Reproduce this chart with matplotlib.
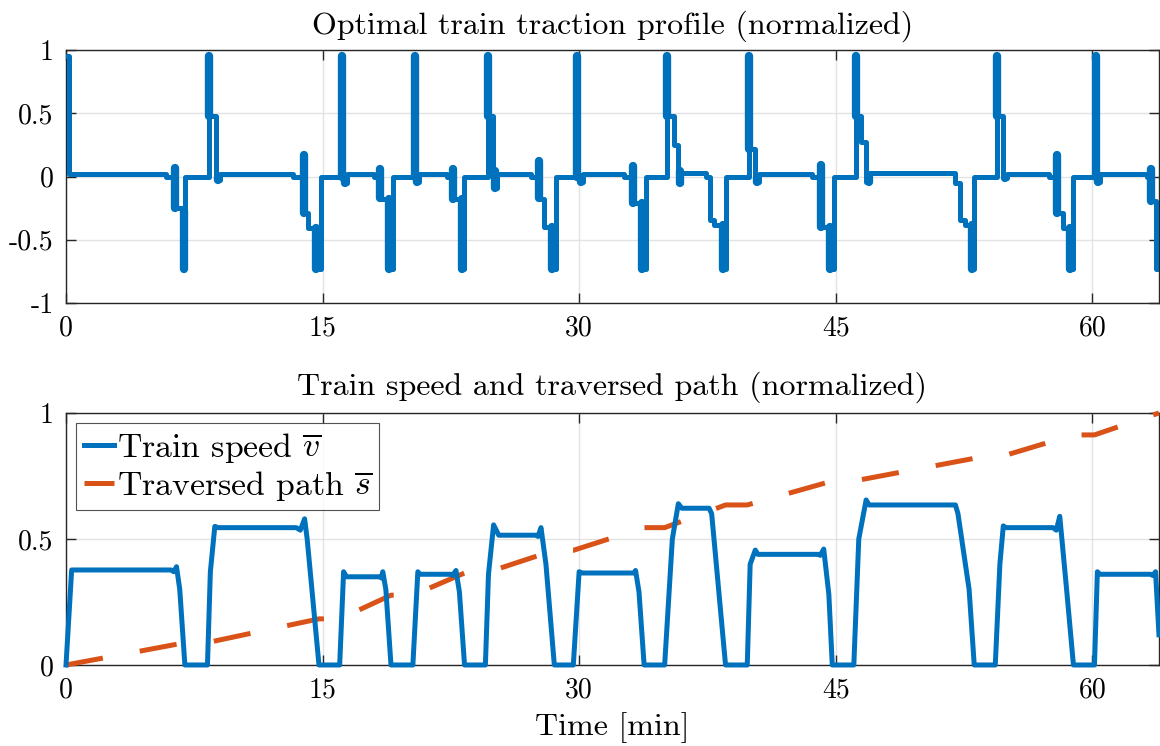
import matplotlib
matplotlib.use('Agg')
import matplotlib.pyplot as plt
import numpy as np

# ---- style (LaTeX-looking text) ----
plt.rcParams['font.family'] = 'serif'
plt.rcParams['font.serif'] = ['cmr10']
plt.rcParams['mathtext.fontset'] = 'cm'
plt.rcParams['axes.unicode_minus'] = False
plt.rcParams['font.size'] = 20

blue = '#0072BD'
orange = '#D95319'

# ---- traction profile: step breakpoints (time [min], u) ----
u_time = [0.00, 0.20, 5.85, 6.30, 6.40, 6.85, 6.98,
          8.37, 8.75, 8.90, 9.00, 13.30, 13.85, 13.95, 14.15, 14.60, 14.90,
          16.15, 16.30, 16.40, 18.00, 18.35, 18.42, 18.85, 19.10,
          20.41, 20.55, 20.65, 22.30, 22.62, 22.70, 23.12, 23.29,
          24.65, 24.98, 25.10, 25.20, 27.20, 27.60, 27.66, 27.95, 28.38, 28.64,
          29.90, 30.10, 30.20, 32.65, 33.12, 33.20, 33.63, 33.90,
          35.15, 35.55, 35.80, 35.95, 37.40, 37.65, 37.90, 38.38, 38.56,
          39.92, 40.30, 40.40, 40.50, 43.60, 44.15, 44.22, 44.66, 44.88,
          46.19, 46.50, 46.75, 46.93, 47.00, 51.95, 52.28, 52.55, 52.93, 53.10,
          54.41, 54.80, 54.90, 55.00, 57.45, 57.93, 58.00, 58.30, 58.68, 58.89,
          60.21, 60.35, 60.45, 63.20, 63.44, 63.50, 63.74, 63.90]
u_val = [0.95, 0.02, 0.00, 0.07, -0.25, -0.27, 0.00,
         0.48, 0.00, -0.03, 0.02, 0.00, 0.17, -0.29, -0.41, -0.73, 0.00,
         0.00, -0.05, 0.02, 0.00, 0.06, -0.18, -0.73, 0.00,
         0.00, -0.04, 0.02, 0.00, 0.06, -0.18, -0.73, 0.00,
         0.48, 0.00, -0.09, 0.02, 0.00, 0.12, -0.18, -0.40, -0.73, 0.00,
         0.00, -0.04, 0.02, 0.00, 0.08, -0.21, -0.73, 0.00,
         0.48, 0.25, -0.05, 0.03, 0.00, -0.34, -0.38, -0.73, 0.00,
         0.22, 0.00, -0.04, 0.02, 0.00, 0.09, -0.40, -0.73, 0.00,
         0.48, 0.27, -0.04, 0.03, 0.03, -0.05, -0.34, -0.38, -0.73, 0.00,
         0.48, 0.00, -0.01, 0.02, 0.00, 0.17, -0.29, -0.41, -0.73, 0.00,
         0.00, -0.04, 0.02, 0.00, 0.06, -0.19, -0.73, -0.73]

# fast switching bursts (drawn as thick bars): time, low, high
burst_t = [8.37, 16.15, 20.41, 24.65, 29.90, 35.15, 39.92, 46.19, 54.41, 60.21,
           6.36, 13.89, 18.37, 22.65, 27.63, 33.15, 44.17, 57.96, 63.46,
           6.90, 14.63, 18.87, 23.15, 28.40, 33.66, 38.40, 44.69, 52.95, 58.70,
           8.90, 16.30, 20.55, 25.10, 30.10, 35.90, 40.40, 46.93, 54.90, 60.35]
burst_lo = [0.48, 0.00, 0.00, 0.48, 0.00, 0.48, 0.22, 0.48, 0.48, 0.00,
            -0.25, -0.29, -0.17, -0.18, -0.17, -0.21, -0.40, -0.29, -0.19,
            -0.73, -0.73, -0.73, -0.73, -0.73, -0.73, -0.73, -0.73, -0.73, -0.73,
            -0.03, -0.05, -0.04, -0.09, -0.04, -0.05, -0.04, -0.04, -0.01, -0.04]
burst_hi = [0.95, 0.95, 0.95, 0.95, 0.95, 0.95, 0.95, 0.95, 0.95, 0.95,
            0.07, 0.17, 0.06, 0.06, 0.12, 0.08, 0.09, 0.17, 0.06,
            -0.27, -0.41, -0.18, -0.18, -0.40, -0.21, -0.38, -0.40, -0.38, -0.41,
            0.00, 0.00, 0.00, 0.04, 0.00, 0.04, 0.00, 0.00, 0.00, 0.00]

# ---- speed (normalized) ----
v_time = [0.0, 0.33, 6.15, 6.30, 6.46, 6.65, 6.95,
          8.27, 8.44, 8.70, 8.90, 13.46, 13.70, 13.95, 14.10, 14.79,
          16.0, 16.23, 16.40, 18.33, 18.45, 18.52, 18.70, 19.0,
          20.28, 20.57, 20.70, 22.50, 22.60, 22.80, 23.0, 23.3,
          24.52, 24.70, 25.0, 25.3, 27.5, 27.6, 27.77, 28.06, 28.55,
          29.66, 30.0, 30.2, 33.2, 33.3, 33.5, 33.8,
          35.0, 35.45, 35.8, 36.0, 37.6, 37.75, 38.56,
          39.83, 40.0, 40.3, 40.45, 44.0, 44.1, 44.3, 44.6, 44.8,
          46.06, 46.35, 46.78, 46.95, 52.0, 52.15, 52.8, 53.1,
          54.33, 54.6, 54.8, 54.95, 57.7, 57.9, 58.1, 58.5, 58.9,
          60.13, 60.3, 60.45, 63.4, 63.55, 63.7, 63.9]
v_val = [0.0, 0.377, 0.377, 0.37, 0.39, 0.30, 0.0,
         0.0, 0.37, 0.55, 0.545, 0.545, 0.535, 0.58, 0.50, 0.0,
         0.0, 0.37, 0.35, 0.35, 0.345, 0.37, 0.30, 0.0,
         0.0, 0.37, 0.36, 0.36, 0.355, 0.375, 0.29, 0.0,
         0.0, 0.36, 0.556, 0.515, 0.515, 0.51, 0.545, 0.40, 0.0,
         0.0, 0.37, 0.365, 0.365, 0.375, 0.29, 0.0,
         0.0, 0.50, 0.64, 0.622, 0.622, 0.60, 0.0,
         0.0, 0.40, 0.456, 0.439, 0.439, 0.435, 0.46, 0.28, 0.0,
         0.0, 0.50, 0.655, 0.635, 0.635, 0.60, 0.30, 0.0,
         0.0, 0.40, 0.552, 0.545, 0.545, 0.535, 0.59, 0.30, 0.0,
         0.0, 0.37, 0.36, 0.36, 0.355, 0.37, 0.12]

# ---- traversed path (normalized) ----
s_time = [0.0, 7.0, 8.27, 14.79, 16.0, 19.0, 20.28, 23.3, 24.52, 28.55, 29.66,
          33.8, 35.0, 38.56, 39.83, 44.8, 46.06, 53.1, 54.33, 58.9, 60.13, 63.9]
s_val = [0.0, 0.089, 0.089, 0.183, 0.183, 0.277, 0.277, 0.365, 0.365, 0.455, 0.455,
         0.545, 0.545, 0.635, 0.635, 0.73, 0.73, 0.82, 0.82, 0.913, 0.913, 1.0]

x_ticks = [0, 15, 30, 45, 60]
u_ticks = [-1, -0.5, 0, 0.5, 1]
u_tick_labels = ['-1', '-0.5', '0', '0.5', '1']
v_ticks = [0, 0.5, 1]
v_tick_labels = ['0', '0.5', '1']
t_end = 63.9

fig = plt.figure(figsize=(11.6, 7.46), dpi=100)
ax1 = fig.add_axes([0.0569, 0.5938, 0.9422, 0.3391])
ax2 = fig.add_axes([0.0569, 0.1086, 0.9422, 0.3378])


def matlab_axes(ax):
    ax.grid(True, color='#e3e3e3', linewidth=1.0)
    ax.set_axisbelow(True)
    for sp in ax.spines.values():
        sp.set_color('#262626')
        sp.set_linewidth(1.0)
    ax.tick_params(direction='in', length=7, width=1.0, color='#262626',
                   top=True, right=True, pad=9)
    ax.set_xticks(x_ticks)
    ax.set_xticklabels([str(x) for x in x_ticks])
    ax.set_xlim(0, t_end)


# top: traction
ax1.plot(u_time, u_val, drawstyle='steps-post', color=blue, linewidth=3.6,
         solid_joinstyle='round', solid_capstyle='round', zorder=3)
ax1.vlines(burst_t, burst_lo, burst_hi, color=blue, linewidth=6.0,
           capstyle='round', zorder=3)
matlab_axes(ax1)
ax1.set_ylim(-1, 1)
ax1.set_yticks(u_ticks)
ax1.set_yticklabels(u_tick_labels)
ax1.set_title('Optimal train traction profile (normalized)', fontsize=23, pad=12)

# bottom: speed and path
ax2.plot(v_time, v_val, color=blue, linewidth=3.6, solid_joinstyle='round',
         label=r'Train speed $\overline{v}$', clip_on=False, zorder=4)
ax2.plot(s_time, s_val, color=orange, linewidth=3.6, dashes=(7.5, 7.5),
         label=r'Traversed path $\overline{s}$', clip_on=False, zorder=3)
matlab_axes(ax2)
ax2.set_ylim(0, 1)
ax2.set_yticks(v_ticks)
ax2.set_yticklabels(v_tick_labels)
ax2.set_title('Train speed and traversed path (normalized)', fontsize=23, pad=13)
ax2.set_xlabel('Time [min]', fontsize=23, labelpad=6)
leg = ax2.legend(loc='upper left', fontsize=24.3, frameon=True, fancybox=False,
                 edgecolor='#262626', handlelength=0.9, handletextpad=0.08,
                 borderpad=0.22, labelspacing=0.12, borderaxespad=0.3)
leg.get_frame().set_linewidth(0.8)

fig.savefig('out.png', dpi=100)
